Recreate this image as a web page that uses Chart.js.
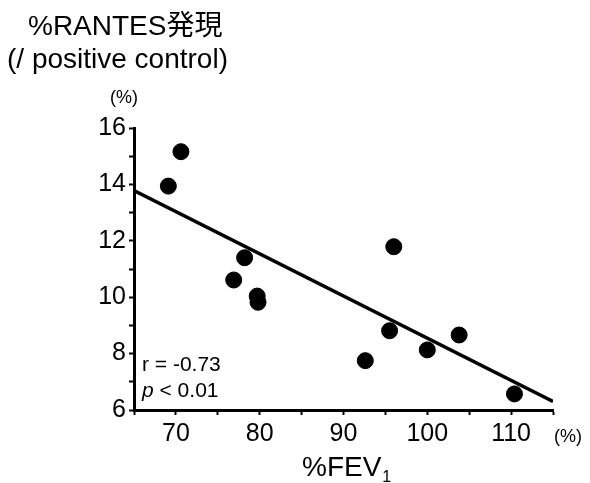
<!DOCTYPE html>
<html>
<head>
<meta charset="utf-8">
<script src="https://cdn.jsdelivr.net/npm/chart.js@4/dist/chart.umd.min.js"></script>
<style>
  html, body { margin: 0; padding: 0; background: #fff; }
  #wrap { width: 590px; height: 483px; }
</style>
</head>
<body>
<div id="wrap"><canvas id="chart" width="590" height="483"></canvas></div>
<script>
// values
const fev1 = [69.1, 70.6, 78.2, 76.9, 79.7, 79.8, 96.0, 95.5, 92.6, 100.0, 103.8, 110.4];
const rantes = [13.94, 15.16, 11.4, 10.61, 10.04, 9.82, 11.79, 8.81, 7.75, 8.13, 8.66, 6.57];
const fitX = [65, 115];
const fitY = [13.78, 6.3];
const xLabels = [70, 80, 90, 100, 110];
const yLabels = [6, 8, 10, 12, 14, 16];

const FONT = "'Liberation Sans', Arial, 'Noto Sans CJK JP', sans-serif";
Chart.defaults.font.family = FONT;
Chart.defaults.color = '#000';

// extra text around the axes
const textPlugin = {
    id: 'figText',
    afterDraw(chart) {
        const ctx = chart.ctx;
        ctx.save();
        ctx.fillStyle = '#000';
        ctx.textAlign = 'left';
        ctx.textBaseline = 'alphabetic';

        ctx.font = '28px ' + FONT;
        ctx.fillText('%RANTES発現', 28, 35);
        ctx.fillText('(/ positive control)', 7, 68);

        ctx.font = '18px ' + FONT;
        ctx.fillText('(%)', 110, 103);
        ctx.fillText('(%)', 554, 442);

        ctx.font = '21px ' + FONT;
        ctx.fillText('r = -0.73', 142, 371);
        ctx.font = 'italic 21px ' + FONT;
        ctx.fillText('p', 142, 397);
        const pw = ctx.measureText('p').width;
        ctx.font = '21px ' + FONT;
        ctx.fillText(' < 0.01', 142 + pw, 397);

        ctx.font = '28px ' + FONT;
        ctx.fillText('%FEV', 302, 476);
        const fw = ctx.measureText('%FEV').width;
        ctx.font = '16px ' + FONT;
        ctx.fillText('1', 302 + fw + 1, 482);
        ctx.restore();
    }
};

new Chart(document.getElementById('chart'), {
    type: 'scatter',
    data: {
        datasets: [
            {
                data: fitX.map((x, i) => ({ x: x, y: fitY[i] })),
                showLine: true,
                borderColor: '#000',
                borderWidth: 3.5,
                pointRadius: 0
            },
            {
                data: fev1.map((x, i) => ({ x: x, y: rantes[i] })),
                backgroundColor: '#000',
                borderColor: '#000',
                pointRadius: 8,
                pointHoverRadius: 8
            }
        ]
    },
    options: {
        responsive: false,
        animation: false,
        layout: { padding: { top: 128, right: 37, left: 0, bottom: 0 } },
        plugins: {
            legend: { display: false },
            tooltip: { enabled: false }
        },
        scales: {
            x: {
                type: 'linear',
                min: 65,
                max: 115,
                border: { color: '#000', width: 3 },
                grid: { drawOnChartArea: false, color: '#000', tickLength: 5, tickWidth: 2 },
                ticks: {
                    stepSize: 5,
                    autoSkip: false,
                    maxRotation: 0,
                    padding: 4,
                    font: { size: 25 },
                    color: '#000',
                    callback: v => xLabels.includes(v) ? v : ''
                },
                afterFit: s => { s.height = 73; }
            },
            y: {
                type: 'linear',
                min: 6,
                max: 16,
                border: { color: '#000', width: 3 },
                grid: { drawOnChartArea: false, color: '#000', tickLength: 5, tickWidth: 2 },
                ticks: {
                    stepSize: 1,
                    autoSkip: false,
                    padding: 3,
                    font: { size: 25 },
                    color: '#000',
                    callback: v => yLabels.includes(v) ? v : ''
                },
                afterFit: s => { s.width = 134; }
            }
        }
    },
    plugins: [textPlugin]
});
</script>
</body>
</html>
